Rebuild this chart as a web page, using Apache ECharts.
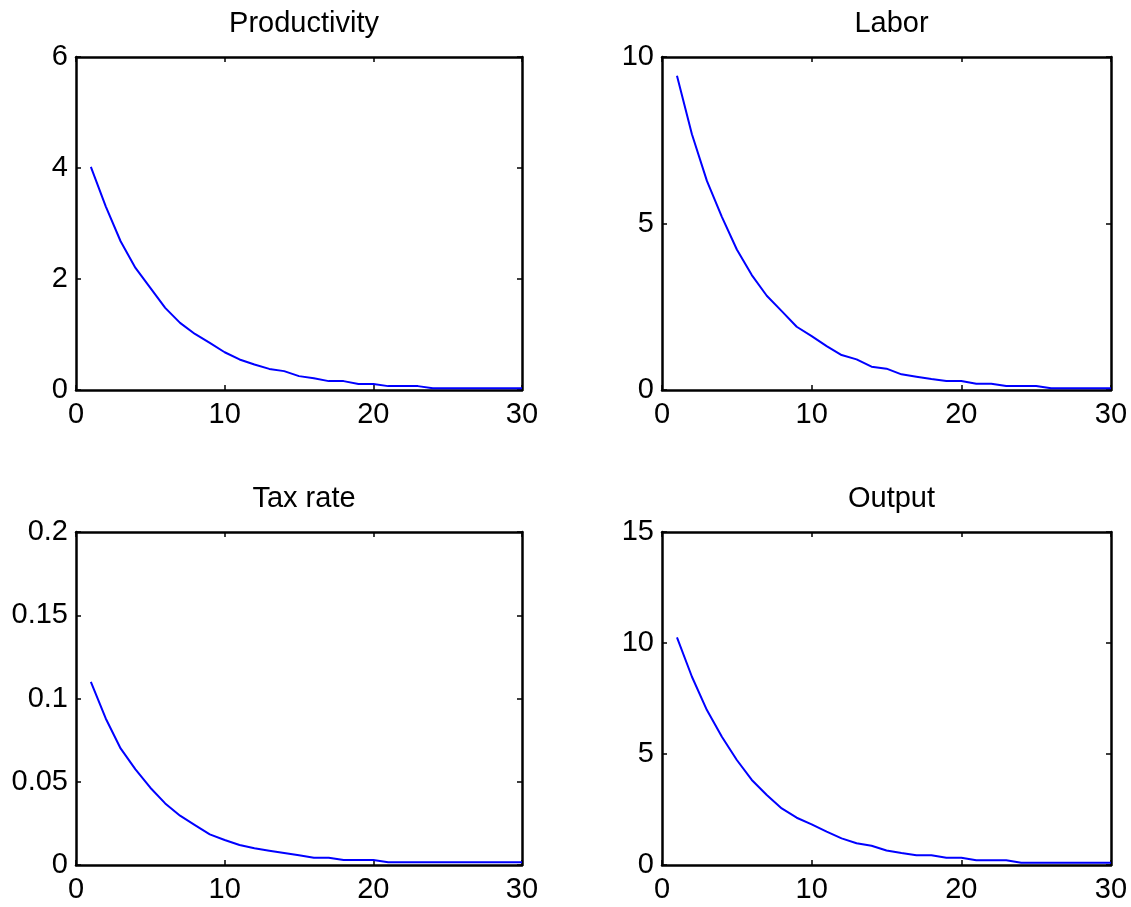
<!DOCTYPE html>
<html>
<head>
<meta charset="utf-8">
<script src="https://cdn.jsdelivr.net/npm/echarts@6/dist/echarts.min.js"></script>
<style>
html,body{margin:0;padding:0;background:#fff;}
#c{width:1131px;height:907px;}
</style>
</head>
<body>
<div id="c"></div>
<script>
var periods = [1,2,3,4,5,6,7,8,9,10,11,12,13,14,15,16,17,18,19,20,21,22,23,24,25,26,27,28,29,30];
var titles = ['Productivity', 'Labor', 'Tax rate', 'Output'];
var productivity = [4.02,3.31,2.68,2.20,1.84,1.48,1.21,1.01,0.85,0.68,0.55,0.46,0.38,0.34,0.25,0.21,0.16,0.16,0.11,0.11,0.07,0.07,0.07,0.03,0.03,0.03,0.03,0.03,0.03,0.03];
var labor = [9.44,7.68,6.28,5.20,4.22,3.45,2.83,2.37,1.90,1.62,1.32,1.05,0.92,0.70,0.64,0.47,0.40,0.33,0.27,0.27,0.19,0.19,0.12,0.12,0.12,0.05,0.05,0.05,0.05,0.05];
var taxRate = [0.110,0.088,0.070,0.0574,0.0464,0.037,0.0296,0.024,0.0184,0.015,0.012,0.010,0.0086,0.0072,0.0058,0.0044,0.0044,0.003,0.003,0.003,0.0016,0.0016,0.0016,0.0016,0.0016,0.0016,0.0016,0.0016,0.0016,0.0016];
var output = [10.25,8.48,6.98,5.78,4.73,3.83,3.15,2.55,2.13,1.83,1.50,1.20,0.98,0.87,0.65,0.54,0.44,0.44,0.33,0.33,0.21,0.21,0.21,0.10,0.10,0.10,0.10,0.10,0.10,0.10];
var xTicks = {min: 0, max: 30, interval: 10};
var yTicks = [
  {min: 0, max: 6, interval: 2},
  {min: 0, max: 10, interval: 5},
  {min: 0, max: 0.2, interval: 0.05},
  {min: 0, max: 15, interval: 5}
];
var seriesData = [productivity, labor, taxRate, output];

var grids = [
  {left: 76, top: 57, width: 446, height: 333},
  {left: 662, top: 57, width: 449, height: 333},
  {left: 76, top: 532, width: 446, height: 333},
  {left: 662, top: 532, width: 449, height: 333}
];
var FONT = 'Liberation Sans, Arial, sans-serif';
var FS = 29;
var axisLine = {show: true, onZero: false, lineStyle: {color: '#000', width: 2.5}};
var tick = {show: true, inside: true, length: 5, lineStyle: {color: '#000', width: 1.5}};

var option = {
  animation: false,
  backgroundColor: '#fff',
  title: [], grid: [], xAxis: [], yAxis: [], series: []
};
for (var i = 0; i < 4; i++) {
  var g = grids[i];
  option.grid.push({left: g.left, top: g.top, width: g.width, height: g.height, containLabel: false});
  option.title.push({
    text: titles[i], left: g.left + g.width / 2, top: g.top - 53, textAlign: 'center',
    textStyle: {fontFamily: FONT, fontSize: FS, fontWeight: 'normal', color: '#000'}
  });
  option.xAxis.push({
    type: 'value', gridIndex: i, position: 'bottom', min: xTicks.min, max: xTicks.max, interval: xTicks.interval,
    axisLine: axisLine, axisTick: tick, splitLine: {show: false},
    axisLabel: {show: true, margin: 10, fontFamily: FONT, fontSize: FS, color: '#000'}
  });
  option.xAxis.push({
    type: 'value', gridIndex: i, position: 'top', min: xTicks.min, max: xTicks.max, interval: xTicks.interval,
    axisLine: axisLine, axisTick: tick, splitLine: {show: false}, axisLabel: {show: false}
  });
  option.yAxis.push({
    type: 'value', gridIndex: i, position: 'left', min: yTicks[i].min, max: yTicks[i].max, interval: yTicks[i].interval,
    axisLine: axisLine, axisTick: tick, splitLine: {show: false},
    axisLabel: {show: true, margin: 8, fontFamily: FONT, fontSize: FS, color: '#000'}
  });
  option.yAxis.push({
    type: 'value', gridIndex: i, position: 'right', min: yTicks[i].min, max: yTicks[i].max, interval: yTicks[i].interval,
    axisLine: axisLine, axisTick: tick, splitLine: {show: false}, axisLabel: {show: false}
  });
  option.series.push({
    type: 'line', xAxisIndex: 2 * i, yAxisIndex: 2 * i,
    data: periods.map(function (p, k) { return [p, seriesData[i][k]]; }),
    showSymbol: false, symbol: 'none', lineStyle: {color: '#0000ff', width: 2}, z: 1
  });
}
var chart = echarts.init(document.getElementById('c'), null, {renderer: 'canvas'});
chart.setOption(option);
</script>
</body>
</html>
